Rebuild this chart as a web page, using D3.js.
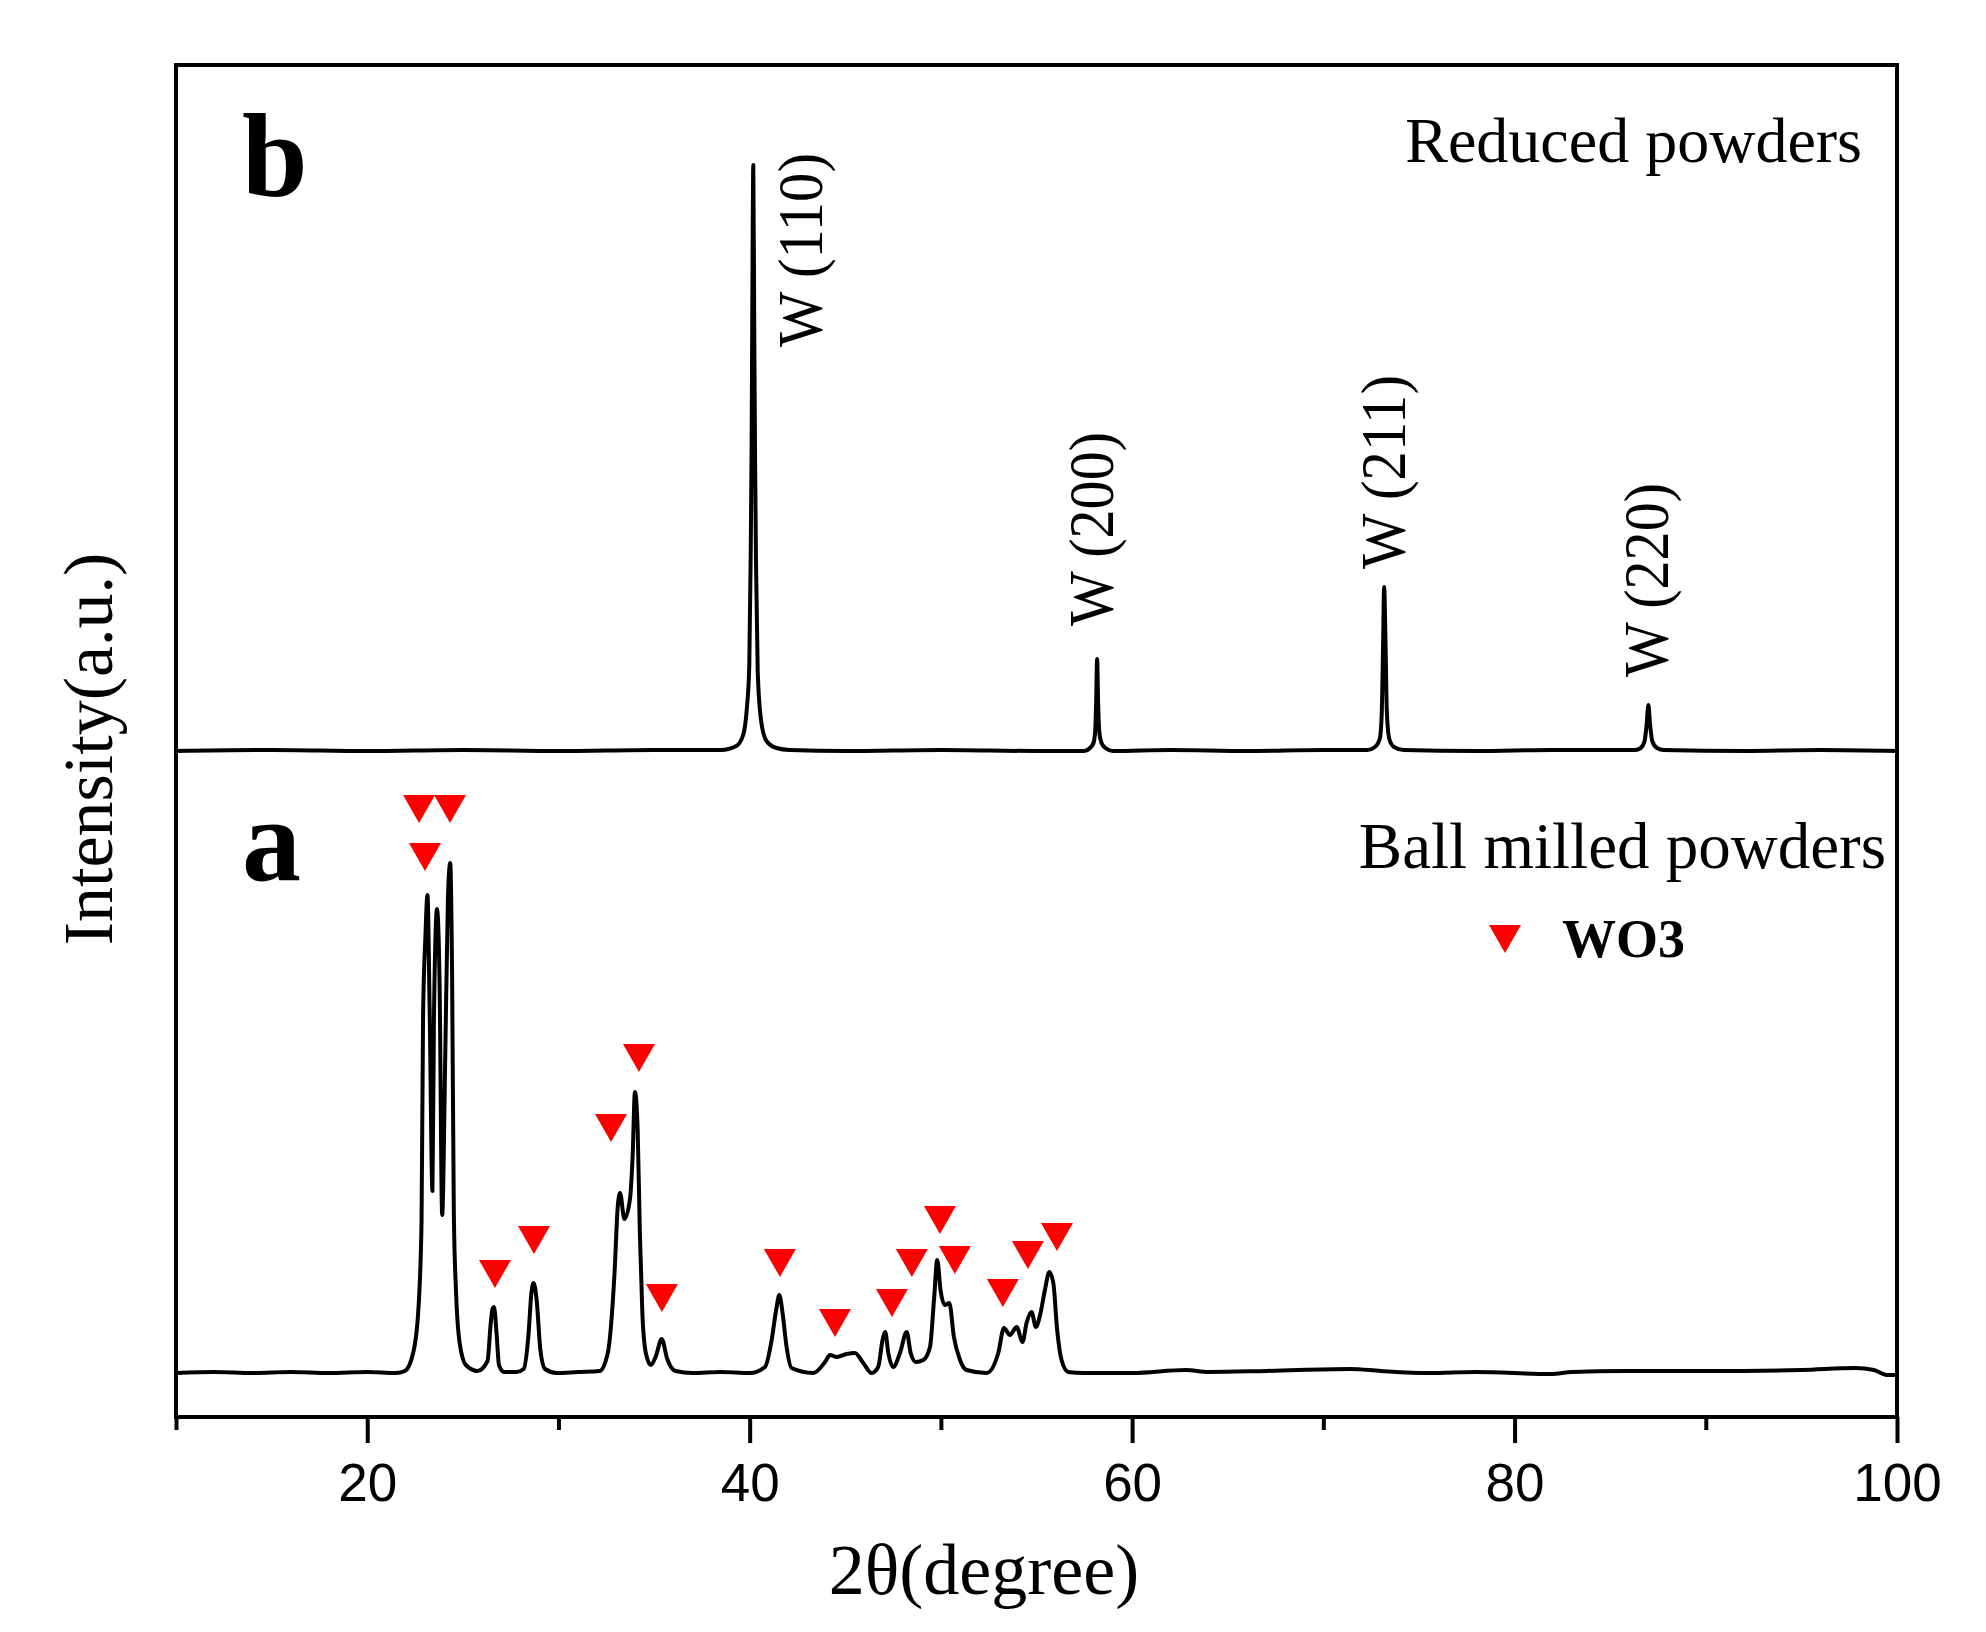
<!DOCTYPE html>
<html>
<head>
<meta charset="utf-8">
<script src="https://cdn.jsdelivr.net/npm/d3@7"></script>
<style>
  body { margin: 0; background: #fff; }
  .serif { font-family: "Liberation Serif", "Times New Roman", serif; }
  .tick text { font-family: "Liberation Sans", Arial, sans-serif; font-size: 53px; fill: #000; }
  .tick line { stroke: #000; stroke-width: 4px; }
</style>
</head>
<body>
<div id="chart"></div>
<script>
// XRD patterns: [2theta, intensity above the pattern's own baseline] (a.u.)
var ballMilled = [
  [10,0],[12,1],[14,0],[16,1],[18,0],[20,1],[21.5,0],[21.97,2],[22.4,20],[22.66,59],[22.84,150],
  [22.92,356],[23.04,435],[23.15,478],[23.27,356],[23.41,182],[23.49,356],[23.65,464],[23.78,395],
  [23.92,158],[24.08,316],[24.22,474],[24.34,510],[24.44,395],[24.53,158],[24.65,79],[24.82,32],
  [25.16,8],[25.77,2],[26.29,12],[26.46,50],[26.55,64],[26.63,66],[26.77,38],[26.89,8],[27.15,1],
  [27.8,1],[28.18,4],[28.44,40],[28.58,79],[28.7,90],[28.87,71],[29.05,24],[29.3,4],[29.91,0],
  [31,1],[32.15,2],[32.58,20],[32.93,99],[33.1,166],[33.22,180],[33.45,154],[33.74,174],[33.88,217],
  [34,281],[34.14,245],[34.26,138],[34.39,59],[34.57,20],[34.83,8],[35.08,16],[35.4,34],[35.69,14],
  [36.12,2],[37,0],[38.5,1],[40.01,0],[40.8,6],[41.15,33],[41.41,66],[41.55,78],[41.72,60],[41.93,26],
  [42.19,5],[43.33,0],[43.94,11],[44.2,18],[44.55,16],[45.07,19],[45.5,20],[45.94,10],[46.38,0],
  [46.72,6],[46.95,33],[47.09,41],[47.25,20],[47.51,6],[47.86,20],[48.21,41],[48.42,20],[48.69,11],
  [49.08,13],[49.43,26],[49.65,76],[49.81,113],[49.98,83],[50.21,68],[50.44,70],[50.68,36],[51,13],
  [51.34,3],[52.39,0],[53,20],[53.3,45],[53.61,38],[53.96,46],[54.27,31],[54.48,50],[54.74,61],
  [54.97,46],[55.21,60],[55.44,83],[55.67,101],[55.88,90],[56.08,43],[56.31,13],[56.66,1],[57.44,0],
  [60,0],[62.8,3],[64,1],[67,2],[71.4,4],[73,2],[75.5,0],[78,1],[81.9,-1],[83,1],[85.7,2],[90,2],
  [95,3],[97.8,5],[98.8,3],[99.5,-2],[100,-2]
];

var reduced = [
  [10,0],[15,1],[20,0],[25,1],[30,0],[35,1],[38.5,1],[39.3,5],[39.66,16],[39.84,40],[39.98,85],
  [40.05,190],[40.1,300],[40.14,450],[40.19,586],[40.24,420],[40.28,300],[40.33,190],[40.42,80],
  [40.6,30],[40.88,10],[41.4,3],[42.1,1],[45,0],[50,1],[55,0],[57.5,0],[57.8,3],[57.98,8],[58.07,20],
  [58.12,50],[58.17,92],[58.22,50],[58.28,20],[58.4,8],[58.6,3],[59,0],[62,1],[66,0],[70,1],[72.3,1],
  [72.7,4],[72.95,12],[73.05,35],[73.12,100],[73.18,164],[73.25,110],[73.32,40],[73.45,12],[73.7,4],
  [74.2,1],[78,0],[82,1],[86.3,1],[86.6,3],[86.8,10],[86.9,25],[87,46],[87.08,28],[87.2,10],[87.45,3],
  [87.8,1],[92,0],[96,1],[100,0]
];

// stacking offsets of the two patterns (a.u.)
var patternNames = ["a", "b"];
var patternOffsets = [44, 666];

// WO3 markers on pattern a: [2theta, intensity above baseline]
var wo3Marks = [
  [22.71,564],[24.33,564],[23.02,516],[26.68,99],[28.72,133],[32.75,245],[34.21,315],[35.41,75],
  [41.58,110],[44.46,50],[47.44,70],[48.48,110],[49.95,153],[50.73,113],[53.24,80],[54.55,118],[56.07,136]
];

// W reflections on pattern b: label, 2theta of label, intensity where label starts
var wLabels = ["W (110)", "W (200)", "W (211)", "W (220)"];
var wLabelTheta = [43.78, 58.99, 74.26, 88.01];
var wLabelInt = [404, 125, 182, 74];

var majorTicks = [20, 40, 60, 80, 100];
var minorTicks = [10, 30, 50, 70, 90];

var SERIF = '"Liberation Serif", "Times New Roman", Times, serif';

var W = 1986, H = 1632;
var margin = {left: 176, right: 89, top: 65, bottom: 215};
var svg = d3.select("#chart").append("svg").attr("width", W).attr("height", H);

var x = d3.scaleLinear().domain([10, 100]).range([margin.left, W - margin.right]);
var y = d3.scaleLinear().domain([0, 1352]).range([H - margin.bottom, margin.top]);

var line = function(off) {
  return d3.line()
    .x(function(d) { return x(d[0]); })
    .y(function(d) { return y(d[1] + off); })
    .curve(d3.curveMonotoneX);
};

// patterns
[ballMilled, reduced].forEach(function(data, i) {
  svg.append("path")
    .datum(data)
    .attr("d", line(patternOffsets[i]))
    .attr("fill", "none")
    .attr("stroke", "#000")
    .attr("stroke-width", 4)
    .attr("stroke-linejoin", "round");
});

// red markers
var tri = "M-16,-14L16,-14L0,14Z";
svg.append("g").selectAll("path")
  .data(wo3Marks)
  .enter().append("path")
  .attr("d", tri)
  .attr("fill", "#f00")
  .attr("transform", function(d) {
    return "translate(" + x(d[0]) + "," + y(d[1] + patternOffsets[0]) + ")";
  });

// W peak labels
svg.append("g").selectAll("text")
  .data(wLabels)
  .enter().append("text")
  .attr("font-family", SERIF)
  .attr("font-size", 64)
  .attr("textLength", 194)
  .attr("lengthAdjust", "spacingAndGlyphs")
  .attr("transform", function(d, i) {
    return "translate(" + x(wLabelTheta[i]) + "," + y(wLabelInt[i] + patternOffsets[1]) + ") rotate(-90)";
  })
  .text(function(d) { return d; });

// axes
var xAxis = svg.append("g")
  .attr("transform", "translate(0," + (H - margin.bottom) + ")")
  .call(d3.axisBottom(x).tickValues(majorTicks).tickSize(26).tickPadding(20).tickFormat(d3.format("d")));
xAxis.select(".domain").remove();

var xMinor = svg.append("g")
  .attr("transform", "translate(0," + (H - margin.bottom) + ")")
  .call(d3.axisBottom(x).tickValues(minorTicks).tickSize(13).tickFormat(""));
xMinor.select(".domain").remove();

// frame
svg.append("rect")
  .attr("x", margin.left).attr("y", margin.top)
  .attr("width", W - margin.left - margin.right)
  .attr("height", H - margin.top - margin.bottom)
  .attr("fill", "none").attr("stroke", "#000").attr("stroke-width", 4);

// panel letters
var letterY = [880, 195];
patternNames.forEach(function(n, i) {
  svg.append("text")
    .attr("font-family", SERIF)
    .attr("x", 242).attr("y", letterY[i])
    .attr("font-size", 118).attr("font-weight", "bold")
    .text(n);
});

// sample names
svg.append("text").attr("font-family", SERIF)
  .attr("x", 1862).attr("y", 162).attr("text-anchor", "end").attr("font-size", 64)
  .text("Reduced powders");
svg.append("text").attr("font-family", SERIF)
  .attr("x", 1886).attr("y", 868).attr("text-anchor", "end").attr("font-size", 65)
  .text("Ball milled powders");

// legend
svg.append("path").attr("d", tri).attr("fill", "#f00")
  .attr("transform", "translate(1505,939)");
svg.append("text").attr("font-family", SERIF)
  .attr("x", 1562).attr("y", 957).attr("font-size", 54).attr("font-weight", "bold")
  .text("WO3");

// axis titles
svg.append("text").attr("font-family", SERIF)
  .attr("x", 984).attr("y", 1594).attr("text-anchor", "middle").attr("font-size", 72)
  .text("2θ(degree)");
svg.append("text").attr("font-family", SERIF)
  .attr("transform", "translate(112,749) rotate(-90)")
  .attr("text-anchor", "middle").attr("font-size", 70)
  .text("Intensity(a.u.)");
</script>
</body>
</html>
